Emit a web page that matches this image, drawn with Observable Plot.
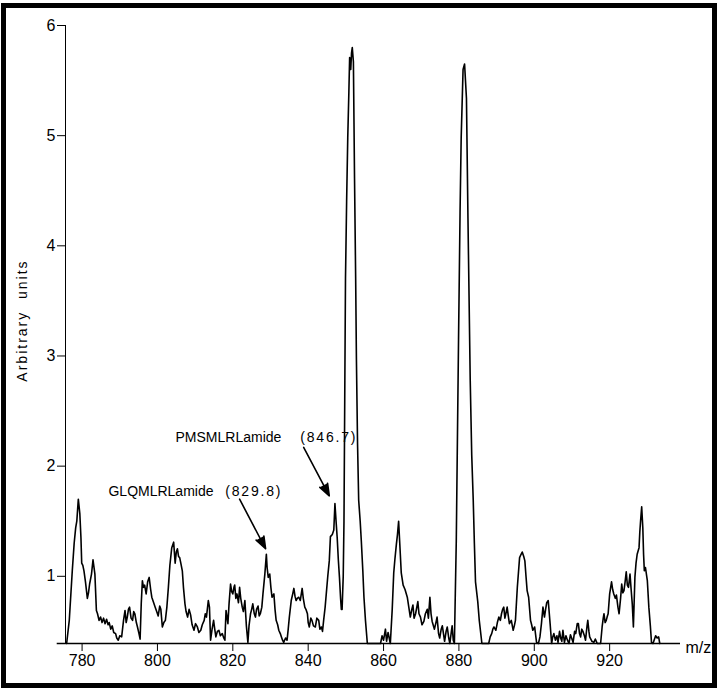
<!DOCTYPE html>
<html><head><meta charset="utf-8">
<script src="https://cdn.jsdelivr.net/npm/d3@7"></script>
<script src="https://cdn.jsdelivr.net/npm/@observablehq/plot@0.6"></script>
<style>
html,body{margin:0;padding:0;background:#fff;}
#chart{position:absolute;left:0;top:0;}
#frame{position:absolute;left:1px;top:3px;width:706px;height:675px;border:5px solid #000;pointer-events:none;}
#chart svg text{white-space:pre;}
.num text{letter-spacing:1.8px;}
.lbl text{letter-spacing:2px;}
</style></head><body>
<div id="chart"></div><div id="frame"></div>
<script>
// m/z positions of the trace
const mz = [775.9,776.6,777.4,777.9,778.3,778.6,779.0,779.4,779.7,779.9,780.2,780.5,780.9,781.4,781.7,782.0,782.5,782.9,783.4,783.8,784.1,784.5,784.9,785.3,785.7,786.1,786.5,786.9,787.2,787.6,788.0,788.4,788.9,789.2,789.6,790.0,790.5,791.0,791.4,791.7,792.0,792.3,792.6,793.0,793.4,793.7,794.0,794.4,794.7,795.1,795.4,795.7,796.0,796.3,796.6,797.0,797.4,797.8,798.2,798.5,799.0,799.4,799.8,800.2,800.6,800.9,801.3,801.7,802.1,802.5,802.9,803.3,803.8,804.3,804.7,805.0,805.3,805.6,805.9,806.2,806.6,806.9,807.3,807.6,808.0,808.4,808.8,809.2,809.7,810.1,810.6,811.0,811.5,811.9,812.4,812.7,813.0,813.5,813.8,814.1,814.5,814.9,815.2,815.5,815.9,816.3,816.7,817.2,817.6,817.9,818.2,818.7,819.0,819.4,819.7,820.0,820.3,820.5,820.8,821.1,821.5,821.8,822.1,822.5,822.8,823.2,823.6,824.0,824.3,824.7,825.0,825.3,825.7,826.0,826.3,826.7,827.0,827.3,827.7,828.0,828.5,828.9,829.1,829.4,829.8,830.1,830.4,830.9,831.2,831.5,831.9,832.2,832.6,832.9,833.2,833.5,834.0,834.4,834.7,835.0,835.5,835.9,836.2,836.5,836.8,837.1,837.5,837.9,838.4,838.7,839.1,839.4,839.8,840.0,840.3,840.7,841.0,841.4,841.9,842.3,842.8,843.1,843.5,843.8,844.1,844.5,844.8,845.2,845.6,845.9,846.4,846.8,847.1,847.4,847.7,848.0,848.3,848.6,848.8,849.0,849.3,849.5,849.7,849.9,850.2,850.5,850.8,851.0,851.3,851.5,851.7,852.0,852.3,852.6,852.8,853.1,853.4,853.8,854.1,854.5,854.8,855.2,855.7,859.2,859.6,860.0,860.5,860.8,861.2,861.8,862.3,862.7,863.0,863.4,863.7,864.0,864.3,864.7,865.2,865.7,866.3,866.7,867.1,867.5,867.8,868.1,868.5,869.1,869.4,869.8,870.2,870.7,871.1,871.6,871.9,872.3,872.6,872.9,873.5,873.9,874.2,874.6,874.9,875.3,875.6,876.2,876.6,876.9,877.3,877.6,878.0,878.2,878.5,878.8,879.3,879.9,880.3,880.6,881.1,881.5,882.0,882.4,883.0,883.4,883.8,884.1,884.4,885.0,885.4,886.1,887.9,888.3,888.7,889.0,889.3,889.8,890.2,890.6,891.0,891.3,891.6,891.9,892.2,892.4,892.8,893.1,893.4,893.9,894.4,894.7,895.0,895.5,896.1,896.5,896.8,897.2,897.5,897.8,898.1,898.5,899.0,899.3,899.6,900.1,900.6,901.1,901.5,901.9,902.3,902.7,903.0,903.3,903.7,904.2,904.6,904.9,905.2,905.6,906.0,906.3,906.7,907.0,907.3,907.6,908.0,908.4,908.8,909.2,909.6,909.9,910.3,910.7,911.0,911.4,911.7,912.0,912.3,912.6,912.9,913.3,913.6,914.0,914.2,914.5,914.7,915.3,915.8,916.2,916.7,917.6,918.0,918.3,918.5,918.8,919.1,919.4,919.6,920.0,920.5,920.8,921.1,921.5,921.8,922.2,922.5,922.9,923.2,923.5,923.8,924.1,924.4,924.7,925.0,925.4,925.7,926.0,926.3,926.7,927.0,927.3,927.8,928.0,928.2,928.5,928.8,929.0,929.2,929.5,930.0,930.4,930.8,931.1,931.5,932.2,932.6,933.0,933.3];
// intensities (arbitrary units) at those positions
const intensity = [0.39,0.60,1.05,1.30,1.44,1.50,1.70,1.57,1.35,1.12,1.10,1.05,0.95,0.80,0.85,0.93,1.02,1.15,1.02,0.69,0.66,0.60,0.63,0.58,0.62,0.57,0.61,0.56,0.58,0.52,0.55,0.49,0.48,0.44,0.42,0.46,0.45,0.60,0.69,0.58,0.63,0.70,0.72,0.62,0.60,0.68,0.66,0.58,0.54,0.48,0.43,0.75,0.96,0.90,0.92,0.84,0.95,0.99,0.88,0.81,0.76,0.72,0.68,0.64,0.73,0.70,0.54,0.58,0.60,0.72,0.90,1.10,1.26,1.31,1.12,1.22,1.25,1.18,1.17,1.12,1.05,0.90,0.75,0.68,0.63,0.70,0.65,0.56,0.51,0.57,0.54,0.49,0.51,0.56,0.60,0.66,0.63,0.78,0.72,0.42,0.52,0.60,0.52,0.45,0.50,0.51,0.46,0.48,0.44,0.42,0.69,0.57,0.75,0.93,0.86,0.84,0.90,0.92,0.80,0.84,0.76,0.90,0.80,0.72,0.68,0.78,0.55,0.40,0.55,0.66,0.70,0.75,0.66,0.63,0.70,0.73,0.64,0.66,0.72,0.84,1.02,1.20,1.08,0.99,1.02,0.90,0.81,0.84,0.70,0.60,0.56,0.51,0.48,0.45,0.42,0.40,0.44,0.42,0.52,0.63,0.78,0.84,0.89,0.82,0.78,0.80,0.81,0.78,0.89,0.80,0.72,0.70,0.66,0.58,0.54,0.62,0.60,0.55,0.54,0.62,0.60,0.52,0.54,0.50,0.60,0.72,0.84,1.00,1.14,1.36,1.38,1.42,1.66,1.50,1.35,1.15,0.99,0.80,0.70,0.70,1.00,1.50,2.60,3.70,4.40,4.98,5.40,5.71,5.60,5.75,5.80,5.67,4.61,3.70,2.97,2.20,1.69,1.50,1.32,1.05,0.81,0.60,0.39,0.39,0.46,0.42,0.52,0.41,0.49,0.39,0.70,1.03,1.15,1.29,1.38,1.50,1.30,1.03,0.92,0.88,0.81,0.72,0.63,0.70,0.74,0.62,0.66,0.77,0.66,0.63,0.56,0.59,0.66,0.70,0.62,0.81,0.66,0.59,0.52,0.58,0.63,0.48,0.44,0.52,0.55,0.41,0.50,0.54,0.44,0.39,0.50,0.55,0.42,0.39,1.32,3.15,4.30,4.98,5.60,5.65,5.34,4.25,2.78,2.10,1.69,1.30,0.95,0.77,0.60,0.39,0.39,0.45,0.48,0.52,0.54,0.51,0.58,0.63,0.60,0.66,0.70,0.72,0.62,0.65,0.72,0.64,0.57,0.60,0.51,0.55,0.60,0.90,1.17,1.20,1.22,1.18,1.14,1.00,0.87,0.81,0.60,0.56,0.51,0.54,0.40,0.39,0.45,0.57,0.72,0.63,0.70,0.76,0.78,0.57,0.39,0.45,0.48,0.42,0.46,0.40,0.50,0.44,0.41,0.51,0.40,0.46,0.42,0.39,0.47,0.44,0.40,0.50,0.48,0.57,0.57,0.48,0.45,0.52,0.50,0.46,0.42,0.55,0.60,0.50,0.45,0.41,0.40,0.43,0.39,0.39,0.54,0.62,0.66,0.58,0.60,0.64,0.66,0.84,0.95,0.88,0.84,0.80,0.83,0.72,0.66,0.80,0.93,0.85,0.87,0.95,1.04,0.92,0.90,1.02,0.88,0.75,0.54,0.99,1.12,1.20,1.26,1.40,1.50,1.63,1.44,1.20,1.05,1.08,0.96,0.72,0.55,0.40,0.39,0.46,0.44,0.45,0.39];

const xTicks = [780,800,820,840,860,880,900,920];
const yTicks = [1,2,3,4,5,6];
const xDomain = [775.6, 938.8];
const yDomain = [0.39, 6];
const xAxisStart = 773.4;

const peptideNames = ["PMSMLRLamide","GLQMLRLamide"];
const peptideMasses = ["(846.7)","(829.8)"];
const nameX = [804.8, 787.0];
const massX = [837.9, 818.0];
const labelY = [2.26, 1.77];
const arrowX1 = [838.8, 821.8];
const arrowY1 = [2.17, 1.70];
const arrowX2 = [845.6, 828.7];
const arrowY2 = [1.73, 1.25];

const spectrum = mz.map((m, i) => ({mz: m, v: intensity[i]}));
const idx = peptideNames.map((_, i) => i);

const chart = Plot.plot({
  width: 720,
  height: 690,
  marginLeft: 65,
  marginRight: 40,
  marginTop: 25,
  marginBottom: 47,
  style: {fontFamily: "'Liberation Sans', Arial, sans-serif", fontSize: "16px", color: "#000", background: "transparent"},
  x: {domain: xDomain, ticks: xTicks, tickSize: 8, tickPadding: 3, tickFormat: "d", label: null},
  y: {domain: yDomain, ticks: yTicks, tickSize: 8, tickPadding: 2, tickFormat: "d", label: null, line: true},
  marks: [
    Plot.ruleY([yDomain[0]], {x1: xAxisStart, x2: xDomain[1], stroke: "#000", strokeWidth: 1.3, clip: false}),
    Plot.line(spectrum, {x: "mz", y: "v", stroke: "#000", strokeWidth: 1.6}),
    Plot.arrow(idx, {x1: arrowX1, y1: arrowY1, x2: arrowX2, y2: arrowY2, stroke: "#000", fill: "#000", strokeWidth: 1.6, headLength: 12, headAngle: 40}),
    Plot.text(idx, {x: nameX, y: labelY, text: peptideNames, textAnchor: "start", fontSize: 14}),
    Plot.text(idx, {x: massX, y: labelY, text: peptideMasses, textAnchor: "start", fontSize: 14, className: "num"}),
    Plot.text(["m/z"], {frameAnchor: "bottom-right", textAnchor: "start", lineAnchor: "middle", dx: 5, dy: 4, fontSize: 16}),
    Plot.text(["Arbitrary  units"], {frameAnchor: "left", textAnchor: "middle", rotate: -90, dx: -43, dy: -14, fontSize: 14, className: "lbl"})
  ]
});
document.getElementById("chart").appendChild(chart);
</script>
</body></html>
